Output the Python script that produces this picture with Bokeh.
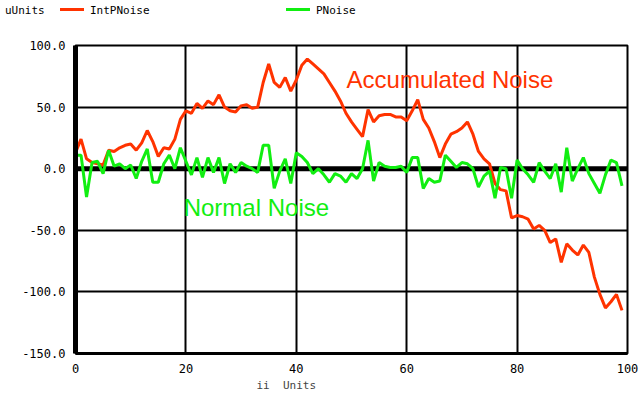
from bokeh.plotting import figure
from bokeh.layouts import column
from bokeh.models import (Range1d, Span, Label, PrintfTickFormatter, FixedTicker, Title, Div)
from bokeh.embed import file_html
from bokeh.resources import INLINE

# sample index
ii = list(range(100))

# accumulated (integrated) noise
int_pnoise = [13, 24, 8, 5, 4, 3, 15, 14, 17, 19,
              20, 15, 21, 31, 22, 10, 17, 16, 24, 40,
              47, 45, 53, 49, 55, 52, 60, 50, 47, 46,
              51, 52, 49, 50, 70, 85, 70, 66, 74, 63,
              72, 84, 89, 85, 81, 77, 70, 63, 55, 45,
              38, 32, 26, 48, 38, 43, 44, 44, 42, 42,
              39, 47, 56, 40, 33, 22, 9, 20, 28, 30,
              33, 38, 28, 14, 8, 4, -12, -17, -18, -40,
              -38, -39, -41, -49, -46, -50, -60, -57, -76, -61,
              -66, -70, -62, -68, -88, -102, -113, -108, -102, -115]

# raw noise
pnoise = [11, 11, -23, 5, 6, -4, 15, 2, 4, 0,
          3, -8, 6, 16, -11, -11, 4, 11, 0, 17,
          6, -5, 9, -7, 9, -3, 9, -12, 4, -3,
          5, 2, 0, -3, 19, 19, -16, -2, 8, -12,
          13, 10, 5, -4, 0, -5, -11, -4, -6, -11,
          -4, -8, 0, 23, -10, 5, 2, 1, 1, 2,
          -3, 9, 9, -16, -8, -11, -10, 11, 6, 1,
          5, 4, 0, -15, -6, -2, -24, 1, 0, -24,
          7, 0, -5, -11, 5, -2, -8, 4, -19, 17,
          -10, 0, 9, -4, -12, -20, -5, 7, 5, -14]

series_names = ["IntPNoise", "PNoise"]
x_ticks = [0, 20, 40, 60, 80, 100]
y_ticks = [-150, -100, -50, 0, 50, 100]

RED = "#ff3300"
GREEN = "#11ee11"
MONO = "DejaVu Sans Mono"

# ---- main plot ----
p = figure(width=640, height=362, output_backend="svg", toolbar_location=None,
           x_range=Range1d(0, 100), y_range=Range1d(-150, 100),
           min_border_left=75, min_border_right=13, min_border_top=5, min_border_bottom=49)
p.background_fill_color = "white"
p.border_fill_color = "white"
p.outline_line_color = "black"
p.outline_line_width = 2

p.xaxis.ticker = FixedTicker(ticks=x_ticks)
p.yaxis.ticker = FixedTicker(ticks=y_ticks)
p.yaxis.formatter = PrintfTickFormatter(format="%.1f")
for ax in (p.xaxis[0], p.yaxis[0]):
    ax.major_tick_line_color = None
    ax.minor_tick_line_color = None
    ax.axis_line_color = "black"
    ax.major_label_text_font = MONO
    ax.major_label_text_font_size = "12px"
    ax.major_label_text_color = "black"
p.yaxis.axis_line_width = 5
p.xaxis.axis_line_width = 3
p.yaxis.major_label_standoff = 4
p.xaxis.major_label_standoff = 4

p.xgrid.ticker = FixedTicker(ticks=x_ticks)
p.ygrid.ticker = FixedTicker(ticks=y_ticks)
for g in (p.xgrid[0], p.ygrid[0]):
    g.grid_line_color = "black"
    g.grid_line_width = 2
    g.grid_line_alpha = 1.0

# heavy zero line
p.add_layout(Span(location=0, dimension="width", line_color="black", line_width=5, level="underlay"))

p.line(ii, int_pnoise, line_color=RED, line_width=3)
p.line(ii, pnoise, line_color=GREEN, line_width=3)

p.add_layout(Label(x=49.1, y=72.4, text="Accumulated Noise", text_color=RED,
                   text_font="Liberation Sans", text_font_size="24px", text_baseline="middle"))
p.add_layout(Label(x=19.6, y=-31.5, text="Normal Noise", text_color=GREEN,
                   text_font="Liberation Sans", text_font_size="24px", text_baseline="middle"))

# x axis caption (non-breaking spaces keep the gap)
p.add_layout(Title(text="ii\u00a0\u00a0Units", align="left", offset=181, text_font=MONO,
                   text_font_size="11px", text_font_style="normal", standoff=2), "below")

# ---- series key strip ----
def key_entry(name, color, left):
    return (f'<span style="position:absolute;left:{left}px;top:8px;width:24px;height:3px;'
            f'background:{color};"></span>'
            f'<span style="position:absolute;left:{left + 30}px;top:4px;line-height:14px;">{name}</span>')

key_html = (
    f'<div style="position:relative;width:640px;height:40px;font-family:\'{MONO}\';'
    f'font-size:11px;color:#000;background:#fff;">'
    f'<span style="position:absolute;left:5px;top:4px;line-height:14px;">uUnits</span>'
    + key_entry(series_names[0], RED, 60)
    + key_entry(series_names[1], GREEN, 286)
    + '</div>'
)
key = Div(text=key_html, width=640, height=40, margin=(0, 0, 0, 0))

layout = column(key, p, spacing=0)
open("out.html", "w").write(file_html(layout, INLINE))
